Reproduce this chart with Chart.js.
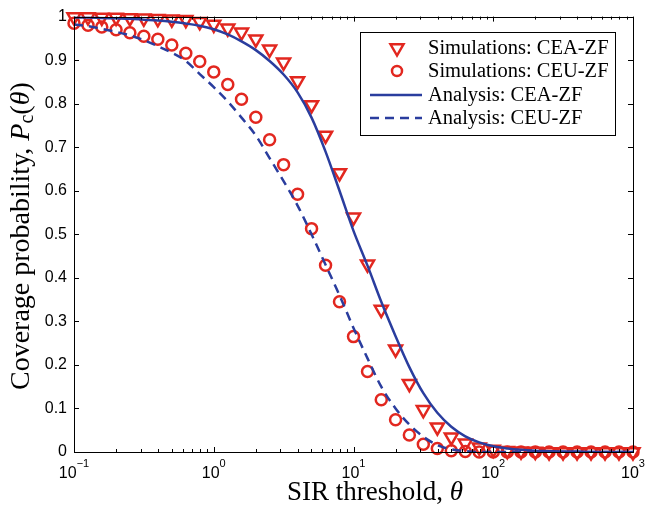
<!DOCTYPE html>
<html>
<head>
<meta charset="utf-8">
<title>Coverage probability vs SIR threshold</title>
<script src="https://cdn.jsdelivr.net/npm/chart.js@4.4.1/dist/chart.umd.min.js"></script>
<style>
  html, body { margin: 0; padding: 0; background: #fff; }
  #wrap { position: relative; width: 645px; height: 510px; }
</style>
</head>
<body>
<div id="wrap"><canvas id="coverageChart"></canvas></div>
<script>
// SIR threshold values (log spaced, 10 per decade)
const thetaValues = [
    0.1, 0.126, 0.158, 0.2, 0.251, 0.316, 0.398, 0.501, 0.631, 0.794,
    1, 1.26, 1.58, 2, 2.51, 3.16, 3.98, 5.01, 6.31, 7.94,
    10, 12.6, 15.8, 20, 25.1, 31.6, 39.8, 50.1, 63.1, 79.4,
    100, 126, 158, 200, 251, 316, 398, 501, 631, 794, 1000
];

// Simulations: CEA-ZF (triangles)
const simCEA = [
    0.999, 0.999, 0.998, 0.998, 0.997, 0.996, 0.995, 0.994, 0.993, 0.988,
    0.982, 0.973, 0.964, 0.948, 0.925, 0.895, 0.852, 0.797, 0.727, 0.641,
    0.539, 0.431, 0.327, 0.236, 0.157, 0.097, 0.057, 0.034, 0.02, 0.011,
    0.006, 0.003, 0.002, 0.001, 0, 0, 0, 0, 0, 0, 0
];

// Simulations: CEU-ZF (circles)
const simCEU = [
    0.985, 0.98, 0.976, 0.97, 0.963, 0.955, 0.948, 0.935, 0.916, 0.897,
    0.873, 0.844, 0.81, 0.769, 0.717, 0.66, 0.592, 0.513, 0.429, 0.345,
    0.265, 0.185, 0.12, 0.074, 0.039, 0.018, 0.008, 0.003, 0.001, 0,
    0, 0, 0, 0, 0, 0, 0, 0, 0, 0, 0
];

// Analysis: CEA-ZF (solid)
const anaCEA = [
    0.998, 0.998, 0.997, 0.996, 0.995, 0.993, 0.991, 0.988, 0.984, 0.979,
    0.971, 0.959, 0.943, 0.923, 0.898, 0.867, 0.826, 0.768, 0.69, 0.6,
    0.508, 0.428, 0.345, 0.266, 0.195, 0.135, 0.09, 0.058, 0.036, 0.022,
    0.013, 0.008, 0.005, 0.003, 0.002, 0.001, 0.001, 0, 0, 0, 0
];

// Analysis: CEU-ZF (dashed)
const anaCEU = [
    0.982, 0.978, 0.972, 0.965, 0.957, 0.946, 0.932, 0.917, 0.898, 0.868,
    0.838, 0.805, 0.768, 0.727, 0.675, 0.622, 0.566, 0.5, 0.43, 0.36,
    0.285, 0.215, 0.15, 0.1, 0.063, 0.035, 0.016, 0.006, 0.002, 0,
    0, 0, 0, 0, 0, 0, 0, 0, 0, 0, 0
];

const seriesLabels = ['Simulations: CEA-ZF', 'Simulations: CEU-ZF', 'Analysis: CEA-ZF', 'Analysis: CEU-ZF'];
const xMajorTicks = [0.1, 1, 10, 100, 1000];
const xTickExponents = ['\u22121', '0', '1', '2', '3'];

const RED = '#e2271f';
const BLUE = '#2a3d9e';
const SANS = '"Liberation Sans", Arial, sans-serif';
const SERIF = '"Liberation Serif", "Times New Roman", serif';

const toPoints = (vals) => thetaValues.map((x, i) => ({ x: x, y: vals[i] }));

// 轴框、刻度、x 标签、轴标题、图例
const decorPlugin = {
    id: 'decor',
    afterDraw(chart) {
        const ctx = chart.ctx;
        const area = chart.chartArea;
        const xs = chart.scales.x;
        const ys = chart.scales.y;
        ctx.save();
        ctx.strokeStyle = '#000';
        ctx.lineWidth = 1;

        // box
        ctx.strokeRect(Math.round(area.left) + 0.5, Math.round(area.top) + 0.5,
            Math.round(area.right - area.left), Math.round(area.bottom - area.top));

        ctx.beginPath();
        // y ticks (inward, left and right)
        ys.ticks.forEach(t => {
            const py = Math.round(ys.getPixelForValue(t.value)) + 0.5;
            ctx.moveTo(area.left, py); ctx.lineTo(area.left + 5, py);
            ctx.moveTo(area.right, py); ctx.lineTo(area.right - 5, py);
        });
        // x ticks, major + minor (bottom and top)
        xMajorTicks.forEach((d, i) => {
            const px = Math.round(xs.getPixelForValue(d)) + 0.5;
            ctx.moveTo(px, area.bottom); ctx.lineTo(px, area.bottom - 5);
            ctx.moveTo(px, area.top); ctx.lineTo(px, area.top + 5);
            if (i === xMajorTicks.length - 1) return;
            for (let m = 2; m <= 9; m++) {
                const mx = Math.round(xs.getPixelForValue(d * m)) + 0.5;
                ctx.moveTo(mx, area.bottom); ctx.lineTo(mx, area.bottom - 3);
                ctx.moveTo(mx, area.top); ctx.lineTo(mx, area.top + 3);
            }
        });
        ctx.stroke();

        // x tick labels: 10^n
        ctx.fillStyle = '#000';
        ctx.textBaseline = 'alphabetic';
        xMajorTicks.forEach((d, i) => {
            const px = xs.getPixelForValue(d);
            ctx.font = '16px ' + SANS;
            const wBase = ctx.measureText('10').width;
            ctx.font = '11px ' + SANS;
            const wExp = ctx.measureText(xTickExponents[i]).width;
            const x0 = px - (wBase + wExp) / 2;
            ctx.font = '16px ' + SANS;
            ctx.textAlign = 'left';
            ctx.fillText('10', x0, 478);
            ctx.font = '11px ' + SANS;
            ctx.fillText(xTickExponents[i], x0 + wBase, 467);
        });

        // x title
        ctx.textAlign = 'left';
        ctx.font = '27px ' + SERIF;
        const xt = 'SIR threshold, ';
        ctx.fillText(xt, 287, 500);
        const xtw = ctx.measureText(xt).width;
        ctx.font = 'italic 27px ' + SERIF;
        ctx.fillText('\u03b8', 287 + xtw, 500);

        // y title (rotated)
        ctx.save();
        ctx.translate(29, 390);
        ctx.rotate(-Math.PI / 2);
        let cx = 0;
        const piece = (txt, font, dy) => {
            ctx.font = font;
            ctx.fillText(txt, cx, dy || 0);
            cx += ctx.measureText(txt).width;
        };
        piece('Coverage probability, ', '28px ' + SERIF);
        piece('P', 'italic 28px ' + SERIF);
        piece('c', '20px ' + SERIF, 4);
        piece('(', '28px ' + SERIF);
        piece('\u03b8', 'italic 28px ' + SERIF);
        piece(')', '28px ' + SERIF);
        ctx.restore();

        // legend
        const lx = 360, ly = 32, lw = 255, lh = 103;
        ctx.fillStyle = '#fff';
        ctx.fillRect(lx, ly, lw, lh);
        ctx.strokeStyle = '#000';
        ctx.lineWidth = 1;
        ctx.strokeRect(lx + 0.5, ly + 0.5, lw, lh);
        const rows = [48, 71, 95, 118];
        const mx = 397;
        chart.data.datasets.forEach((ds, i) => {
            const ry = rows[i];
            ctx.lineWidth = 2.5;
            ctx.setLineDash([]);
            if (i === 0) {
                const r = 7.5;
                ctx.strokeStyle = RED;
                ctx.beginPath();
                ctx.moveTo(mx, ry + r);
                ctx.lineTo(mx - r * 0.866, ry - r / 2);
                ctx.lineTo(mx + r * 0.866, ry - r / 2);
                ctx.closePath();
                ctx.stroke();
            } else if (i === 1) {
                ctx.strokeStyle = RED;
                ctx.beginPath();
                ctx.arc(mx, ry, 5, 0, Math.PI * 2);
                ctx.stroke();
            } else {
                ctx.strokeStyle = BLUE;
                if (ds.borderDash) ctx.setLineDash(ds.borderDash);
                ctx.beginPath();
                ctx.moveTo(370, ry);
                ctx.lineTo(422, ry);
                ctx.stroke();
                ctx.setLineDash([]);
            }
            ctx.fillStyle = '#000';
            ctx.font = '20.5px ' + SERIF;
            ctx.textBaseline = 'middle';
            ctx.fillText(ds.label, 428, ry + 1);
        });
        ctx.restore();
    }
};

const ctx = document.getElementById('coverageChart').getContext('2d');
new Chart(ctx, {
    type: 'line',
    data: {
        datasets: [
            {
                label: seriesLabels[0],
                data: toPoints(simCEA),
                showLine: false,
                pointStyle: 'triangle',
                rotation: 180,
                pointRadius: 7.5,
                borderColor: RED,
                backgroundColor: 'rgba(0,0,0,0)',
                pointBorderWidth: 2.5,
                clip: false,
                order: 2
            },
            {
                label: seriesLabels[1],
                data: toPoints(simCEU),
                showLine: false,
                pointStyle: 'circle',
                pointRadius: 5.5,
                borderColor: RED,
                backgroundColor: 'rgba(0,0,0,0)',
                pointBorderWidth: 2.5,
                clip: false,
                order: 2
            },
            {
                label: seriesLabels[2],
                data: toPoints(anaCEA),
                borderColor: BLUE,
                borderWidth: 2.5,
                pointRadius: 0,
                cubicInterpolationMode: 'monotone',
                fill: false,
                order: 1
            },
            {
                label: seriesLabels[3],
                data: toPoints(anaCEU),
                borderColor: BLUE,
                borderWidth: 2.5,
                borderDash: [9, 6],
                pointRadius: 0,
                cubicInterpolationMode: 'monotone',
                fill: false,
                order: 1
            }
        ]
    },
    options: {
        responsive: true,
        maintainAspectRatio: false,
        animation: false,
        layout: { padding: { top: 12, right: 12, left: 0, bottom: 0 } },
        plugins: {
            legend: { display: false },
            tooltip: { enabled: false }
        },
        scales: {
            x: {
                type: 'logarithmic',
                min: 0.1,
                max: 1000,
                grid: { display: false, drawTicks: false },
                border: { display: false },
                ticks: { display: false },
                afterFit: (s) => { s.height = 58; }
            },
            y: {
                type: 'linear',
                min: 0,
                max: 1,
                grid: { display: false, drawTicks: false },
                border: { display: false },
                ticks: {
                    stepSize: 0.1,
                    padding: 7,
                    color: '#000',
                    font: { family: SANS, size: 16 },
                    callback: (v) => String(Math.round(v * 10) / 10)
                },
                afterFit: (s) => { s.width = 74; }
            }
        }
    },
    plugins: [decorPlugin]
});
</script>
</body>
</html>
